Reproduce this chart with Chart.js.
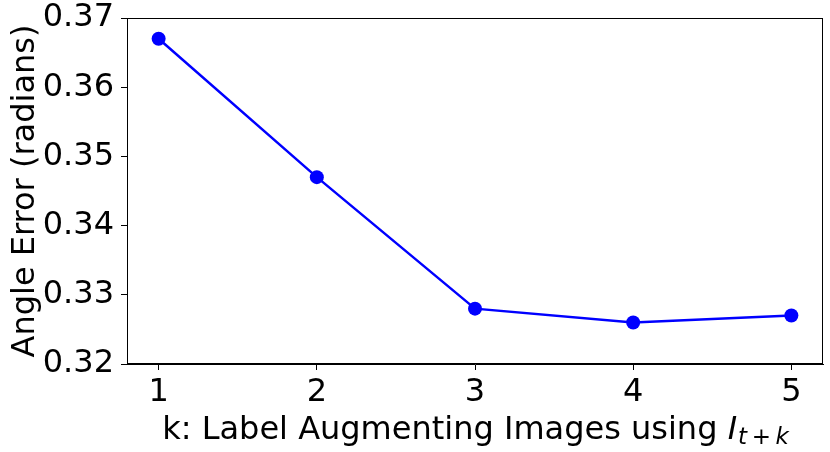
<!DOCTYPE html>
<html lang="en">
<head>
    <meta charset="UTF-8">
    <title>Angle Error vs k</title>
    <script src="https://cdn.jsdelivr.net/npm/chart.js"></script>
    <style>
        html, body { margin: 0; padding: 0; background: #fff; }
        .chart-box { width: 830px; height: 452px; position: relative; }
    </style>
</head>
<body>
    <div class="chart-box">
        <canvas id="errChart"></canvas>
    </div>

    <script>
    // values
    const kValues = [1, 2, 3, 4, 5];
    const angleError = [0.367, 0.347, 0.328, 0.326, 0.327];
    const yTicks = [0.32, 0.33, 0.34, 0.35, 0.36, 0.37];
    const yTitle = 'Angle Error (radians)';
    const xTitleMain = 'k: Label Augmenting Images using ';
    const xTitleVar = 'I';
    const xTitleSub = 't\u2009+\u2009k';

    const FONT = '"DejaVu Sans", sans-serif';

    // frame + axis titles (x title has italic I with subscript)
    const titlesPlugin = {
        id: 'titles',
        afterDraw(chart) {
            const c = chart.ctx;
            const a = chart.chartArea;
            c.save();
            c.strokeStyle = '#000';
            c.lineWidth = 1;
            c.strokeRect(a.left + 0.5, a.top + 0.5, a.right - a.left - 1, a.bottom - a.top - 1);

            c.fillStyle = '#000';
            c.textBaseline = 'alphabetic';

            // y title
            c.save();
            c.translate(34, (a.top + a.bottom) / 2);
            c.rotate(-Math.PI / 2);
            c.font = '32px ' + FONT;
            c.textAlign = 'center';
            c.fillText(yTitle, 0, 0);
            c.restore();

            // x title
            const base = 439;
            c.textAlign = 'left';
            c.font = '32px ' + FONT;
            const w1 = c.measureText(xTitleMain).width;
            c.font = 'italic 32px ' + FONT;
            const w2 = c.measureText(xTitleVar).width;
            c.font = 'italic 23px ' + FONT;
            const w3 = c.measureText(xTitleSub).width;
            let x = (a.left + a.right) / 2 - (w1 + w2 + w3) / 2;
            c.font = '32px ' + FONT;
            c.fillText(xTitleMain, x, base);
            x += w1;
            c.font = 'italic 32px ' + FONT;
            c.fillText(xTitleVar, x, base);
            x += w2 + 1;
            c.font = 'italic 23px ' + FONT;
            c.fillText(xTitleSub, x, base + 5);
            c.restore();
        }
    };

    const ctx = document.getElementById('errChart').getContext('2d');
    new Chart(ctx, {
        type: 'line',
        data: {
            datasets: [{
                data: kValues.map((k, i) => ({ x: k, y: angleError[i] })),
                borderColor: '#0000ff',
                backgroundColor: '#0000ff',
                borderWidth: 2.5,
                pointRadius: 7,
                pointHoverRadius: 7,
                pointBorderWidth: 0,
                tension: 0,
                fill: false
            }]
        },
        options: {
            responsive: true,
            maintainAspectRatio: false,
            animation: false,
            layout: { padding: { top: 18, right: 5, left: 0, bottom: 0 } },
            plugins: {
                legend: { display: false },
                tooltip: { enabled: false }
            },
            scales: {
                x: {
                    type: 'linear',
                    min: 0.8,
                    max: 5.2,
                    afterBuildTicks: s => { s.ticks = kValues.map(v => ({ value: v })); },
                    afterFit: s => { s.height = 88; s.paddingLeft = 0; s.paddingRight = 0; },
                    grid: { display: true, drawOnChartArea: false, drawTicks: true, tickLength: 6, color: '#000' },
                    border: { display: true, color: '#000', width: 1 },
                    ticks: {
                        color: '#000',
                        padding: 3,
                        maxRotation: 0,
                        font: { family: FONT, size: 32 },
                        callback: v => String(v)
                    }
                },
                y: {
                    min: 0.32,
                    max: 0.37,
                    afterBuildTicks: s => { s.ticks = yTicks.map(v => ({ value: v })); },
                    afterFit: s => { s.width = 127; s.paddingTop = 0; s.paddingBottom = 0; },
                    grid: { display: true, drawOnChartArea: false, drawTicks: true, tickLength: 6, color: '#000' },
                    border: { display: true, color: '#000', width: 1 },
                    ticks: {
                        color: '#000',
                        padding: 7,
                        font: { family: FONT, size: 32 },
                        callback: v => Number(v).toFixed(2)
                    }
                }
            }
        },
        plugins: [titlesPlugin]
    });
    </script>
</body>
</html>
